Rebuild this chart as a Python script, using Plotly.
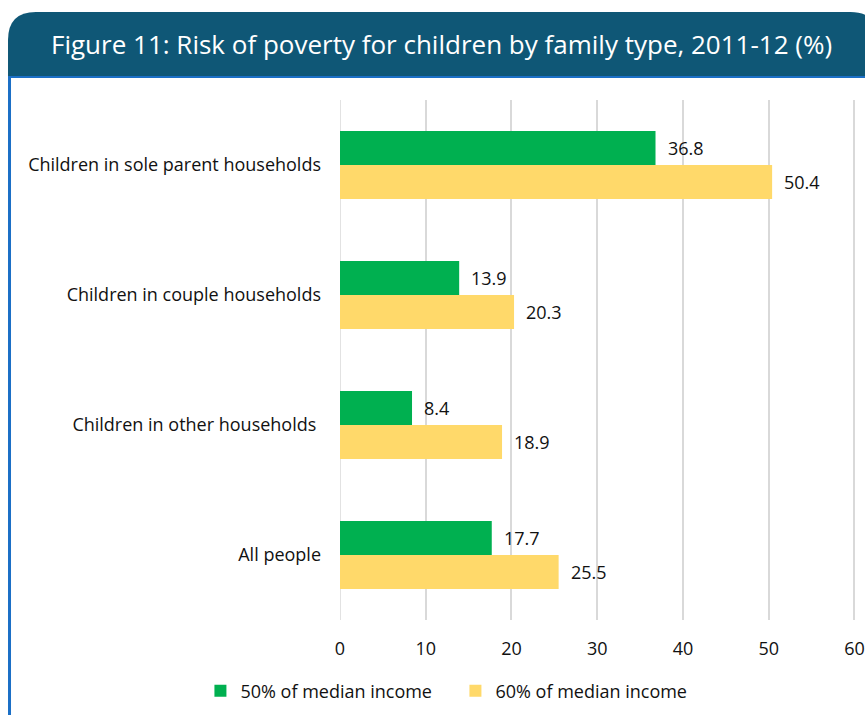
import plotly.graph_objects as go

categories = ["Children in sole parent households", "Children in couple households",
              "Children in other households ", "All people"]
series_50 = [36.8, 13.9, 8.4, 17.7]
series_60 = [50.4, 20.3, 18.9, 25.5]
series_names = ["50% of median income", "60% of median income"]
tick_vals = [0, 10, 20, 30, 40, 50, 60]
title_text = "Figure 11: Risk of poverty for children by family type, 2011-12 (%)"

W, H = 865, 715
X_MAX = 61
L, T, B = 340, 100, 620
R = L + X_MAX * 8.6
FONT = "Open Sans"
FS = 18

def px(x):
    return (x - L) / (R - L)

def py(y):
    return (B - y) / (B - T)

fig = go.Figure()
fig.add_trace(go.Bar(y=categories, x=series_50, orientation="h", name=series_names[0],
                     marker=dict(color="#00b050", line=dict(width=0))))
fig.add_trace(go.Bar(y=categories, x=series_60, orientation="h", name=series_names[1],
                     marker=dict(color="#ffd96a", line=dict(width=0))))

annotations = []
for cat, v in zip(categories, series_50):
    annotations.append(dict(x=v, y=cat, xref="x", yref="y", text=f"{v:.1f}", showarrow=False,
                            xanchor="left", yanchor="middle", xshift=10, yshift=17,
                            font=dict(family=FONT, size=FS, color="#111111")))
for cat, v in zip(categories, series_60):
    annotations.append(dict(x=v, y=cat, xref="x", yref="y", text=f"{v:.1f}", showarrow=False,
                            xanchor="left", yanchor="middle", xshift=10, yshift=-17,
                            font=dict(family=FONT, size=FS, color="#111111")))

annotations.append(dict(x=px(442), y=py(44), xref="paper", yref="paper", text=title_text,
                        showarrow=False, xanchor="center", yanchor="middle",
                        font=dict(family=FONT, size=26, color="white")))

# banner path in pixel coordinates
r = 28
x0, x1, y0, y1 = 7, 880, 12, 77
def P(x, y):
    return f"{px(x):.5f},{py(y):.5f}"
path = (f"M {P(x0, y1)} L {P(x0, y0 + r)} Q {P(x0, y0)} {P(x0 + r, y0)} "
        f"L {P(x1 - r, y0)} Q {P(x1, y0)} {P(x1, y0 + r)} L {P(x1, y1)} Z")

shapes = [
    dict(type="path", path=path, xref="paper", yref="paper", fillcolor="#0f5776",
         line=dict(width=0), layer="above"),
    dict(type="line", xref="paper", yref="paper", x0=px(8), x1=px(880), y0=py(77), y1=py(77),
         line=dict(color="#1b6fc6", width=2)),
    dict(type="line", xref="paper", yref="paper", x0=px(8.5), x1=px(8.5), y0=py(76), y1=py(720),
         line=dict(color="#1b6fc6", width=3)),
]

fig.update_layout(
    width=W, height=H,
    margin=dict(l=L, r=0, t=T, b=H - B),
    paper_bgcolor="white", plot_bgcolor="white",
    barmode="group", bargap=0.477, bargroupgap=0,
    font=dict(family=FONT, size=FS, color="#111111"),
    showlegend=True,
    legend=dict(orientation="h", x=px(200), xanchor="left", y=py(691), yanchor="middle",
                font=dict(family=FONT, size=FS, color="#111111"), traceorder="normal",
                itemwidth=30, entrywidth=210, entrywidthmode="pixels"),
    xaxis=dict(range=[0, X_MAX], tickvals=tick_vals, showgrid=True, gridcolor="#d9d9d9", gridwidth=1.5,
               zeroline=False, showline=False, ticks="", ticklabelstandoff=16,
               ticklabeloverflow="allow",
               tickfont=dict(family=FONT, size=FS, color="#111111"), fixedrange=True),
    yaxis=dict(autorange="reversed", showgrid=False, zeroline=False, showline=False, ticks="",
               ticklabelstandoff=18, tickfont=dict(family=FONT, size=FS, color="#111111")),
    annotations=annotations,
    shapes=shapes,
)
fig.add_shape(type="line", xref="x", yref="paper", x0=0, x1=0, y0=0, y1=1,
              line=dict(color="#d9d9d9", width=1.5), layer="below")

fig.write_html("out.html")
